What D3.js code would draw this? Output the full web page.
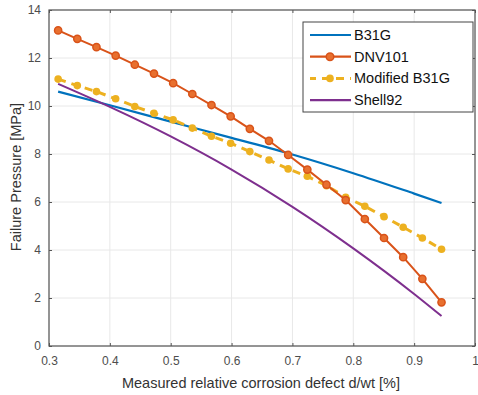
<!DOCTYPE html>
<meta charset="utf-8">
<style>
    body { margin: 0; background: #fff; }
    text { font-family: "Liberation Sans", Arial, sans-serif; }
    .tick text { fill: #4d4d4d; font-size: 12px; }
</style>
<body>
<script src="https://cdn.jsdelivr.net/npm/d3@7"></script>
<script>
    // x positions shared by the marker series
    var xMarked = [0.315, 0.3465, 0.378, 0.4095, 0.441, 0.4725, 0.504, 0.5355, 0.567, 0.5985,
        0.63, 0.6615, 0.693, 0.7245, 0.756, 0.7875, 0.819, 0.8505, 0.882, 0.9135, 0.945];
    var dnv101 = [13.15, 12.8, 12.45, 12.1, 11.72, 11.35, 10.95, 10.5, 10.04, 9.57,
        9.05, 8.55, 7.96, 7.35, 6.72, 6.08, 5.29, 4.5, 3.7, 2.8, 1.82];
    var modB31G = [11.12, 10.85, 10.6, 10.3, 9.98, 9.7, 9.42, 9.08, 8.74, 8.45,
        8.1, 7.75, 7.38, 7.07, 6.68, 6.2, 5.82, 5.39, 4.95, 4.5, 4.03];

    var xSmooth = [0.315, 0.4, 0.5, 0.6, 0.7, 0.8, 0.9, 0.945];
    var b31g = [10.6, 10.03, 9.35, 8.67, 7.98, 7.2, 6.35, 5.96];
    var shell92 = [10.92, 9.96, 8.73, 7.35, 5.8, 4.07, 2.17, 1.25];

    var xTicks = [0.3, 0.4, 0.5, 0.6, 0.7, 0.8, 0.9, 1];
    var yTicks = [0, 2, 4, 6, 8, 10, 12, 14];
    var names = ["B31G", "DNV101", "Modified B31G", "Shell92"];
    var colors = ["#0072BD", "#D95319", "#EDB120", "#7E2F8E"];

    var width = 478, height = 395;
    var margin = {top: 10, right: 3, bottom: 49, left: 49};
    var w = width - margin.left - margin.right,
        h = height - margin.top - margin.bottom;

    var x = d3.scaleLinear().domain([0.3, 1]).range([0, w]);
    var y = d3.scaleLinear().domain([0, 14]).range([h, 0]);

    var svg = d3.select("body").append("svg")
        .attr("width", width)
        .attr("height", height);
    var g = svg.append("g")
        .attr("transform", "translate(" + margin.left + "," + margin.top + ")");

    // grid
    g.selectAll(".gx").data(xTicks).enter().append("line")
        .attr("x1", d => x(d)).attr("x2", d => x(d))
        .attr("y1", 0).attr("y2", h)
        .attr("stroke", "#e8e8e8");
    g.selectAll(".gy").data(yTicks).enter().append("line")
        .attr("x1", 0).attr("x2", w)
        .attr("y1", d => y(d)).attr("y2", d => y(d))
        .attr("stroke", "#e8e8e8");

    // axes (ticks inward, box)
    var fmt = d => String(d);
    g.append("g").attr("transform", "translate(0," + h + ")")
        .call(d3.axisBottom(x).tickValues(xTicks).tickFormat(fmt).tickSizeInner(-3).tickSizeOuter(0).tickPadding(10))
        .call(a => a.select(".domain").remove());
    g.append("g")
        .call(d3.axisLeft(y).tickValues(yTicks).tickFormat(fmt).tickSizeInner(-3).tickSizeOuter(0).tickPadding(8))
        .call(a => a.select(".domain").remove());
    g.append("g")
        .call(d3.axisTop(x).tickValues(xTicks).tickFormat("").tickSizeInner(-3).tickSizeOuter(0))
        .call(a => a.select(".domain").remove());
    g.append("g").attr("transform", "translate(" + w + ",0)")
        .call(d3.axisRight(y).tickValues(yTicks).tickFormat("").tickSizeInner(-3).tickSizeOuter(0))
        .call(a => a.select(".domain").remove());
    g.selectAll(".tick line").attr("stroke", "#555");

    g.append("rect")
        .attr("width", w).attr("height", h)
        .attr("fill", "none").attr("stroke", "#555").attr("stroke-width", 1.2);

    var lineOf = function(xs) {
        return d3.line().x((d, i) => x(xs[i])).y(d => y(d));
    };
    var smooth = function(xs) {
        return d3.line().x((d, i) => x(xs[i])).y(d => y(d)).curve(d3.curveMonotoneX);
    };

    g.append("path").datum(b31g)
        .attr("d", smooth(xSmooth)).attr("fill", "none")
        .attr("stroke", colors[0]).attr("stroke-width", 2.2);

    g.append("path").datum(shell92)
        .attr("d", smooth(xSmooth)).attr("fill", "none")
        .attr("stroke", colors[3]).attr("stroke-width", 2);

    g.append("path").datum(modB31G)
        .attr("d", lineOf(xMarked)).attr("fill", "none")
        .attr("stroke", colors[2]).attr("stroke-width", 3)
        .attr("stroke-dasharray", "8,6");
    g.selectAll(".mod").data(modB31G).enter().append("circle")
        .attr("cx", (d, i) => x(xMarked[i])).attr("cy", d => y(d))
        .attr("r", 3.8).attr("fill", colors[2]);

    g.append("path").datum(dnv101)
        .attr("d", lineOf(xMarked)).attr("fill", "none")
        .attr("stroke", colors[1]).attr("stroke-width", 2);
    g.selectAll(".dnv").data(dnv101).enter().append("circle")
        .attr("cx", (d, i) => x(xMarked[i])).attr("cy", d => y(d))
        .attr("r", 3.6).attr("fill", "#e8702f")
        .attr("stroke", colors[1]).attr("stroke-width", 1.5);

    // axis labels
    svg.append("text")
        .attr("x", 261).attr("y", 388)
        .attr("text-anchor", "middle").attr("font-size", 14.5).attr("fill", "#333")
        .text("Measured relative corrosion defect d/wt [%]");
    svg.append("text")
        .attr("transform", "translate(21,177) rotate(-90)")
        .attr("text-anchor", "middle").attr("font-size", 14.5).attr("fill", "#333")
        .text("Failure Pressure [MPa]");

    // legend
    var leg = svg.append("g").attr("transform", "translate(303,22)");
    leg.append("rect").attr("width", 170).attr("height", 90)
        .attr("fill", "#fff").attr("stroke", "#444");
    var items = leg.selectAll(".item").data(names).enter().append("g")
        .attr("transform", (d, i) => "translate(0," + (13 + i * 21.7) + ")");
    items.append("line")
        .attr("x1", 7).attr("x2", 48)
        .attr("stroke", (d, i) => colors[i])
        .attr("stroke-width", (d, i) => i == 2 ? 3 : 2.2)
        .attr("stroke-dasharray", (d, i) => i == 2 ? "8,6" : null)
        .attr("stroke-dashoffset", (d, i) => i == 2 ? 2 : null);
    items.filter((d, i) => i == 1 || i == 2).append("circle")
        .attr("cx", 27).attr("r", 3.8)
        .attr("fill", d => d == "DNV101" ? "#e8702f" : colors[2])
        .attr("stroke", d => d == "DNV101" ? colors[1] : "none")
        .attr("stroke-width", 1.5);
    items.append("text")
        .attr("x", 51).attr("dy", "0.35em")
        .attr("font-size", 14.5).attr("fill", "#111")
        .text(d => d);
</script>
</body>
